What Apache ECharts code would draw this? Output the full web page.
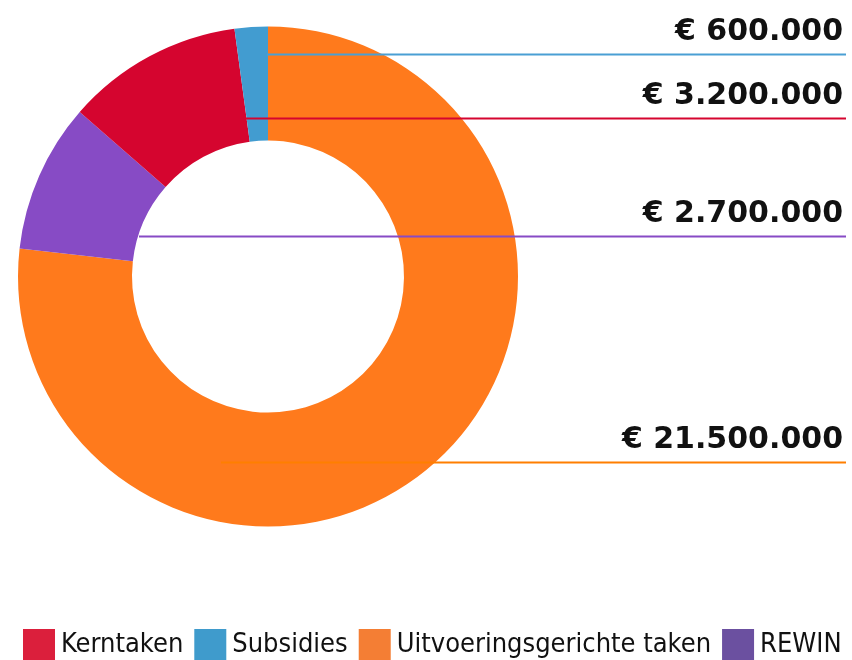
<!DOCTYPE html>
<html>
<head>
<meta charset="utf-8">
<script src="https://cdn.jsdelivr.net/npm/echarts@6/dist/echarts.min.js"></script>
<style>html,body{margin:0;padding:0;background:#fff}#c{width:852px;height:660px}</style>
</head>
<body>
<div id="c"></div>
<script>
// Data (slice order clockwise from 12 o'clock)
const categories = ['Uitvoeringsgerichte taken', 'REWIN', 'Kerntaken', 'Subsidies'];
const values = [21500000, 2700000, 3200000, 600000];
const valueLabels = ['€ 21.500.000', '€ 2.700.000', '€ 3.200.000', '€ 600.000'];
const legendOrder = ['Kerntaken', 'Subsidies', 'Uitvoeringsgerichte taken', 'REWIN'];

// Styles
const sliceColors = ['#ff7a1c', '#874bc5', '#d5052f', '#429cd0'];
const lineColors = ['#ff7f00', '#874bc5', '#d5052f', '#4a9fd4'];
const legendColors = { 'Kerntaken': '#db1f3c', 'Subsidies': '#3f9bcc', 'Uitvoeringsgerichte taken': '#f47e34', 'REWIN': '#6b50a0' };
// Label-line layout (pixel positions of leader lines)
const lineY = [462.5, 236.5, 118.5, 54.5];
const lineStartX = [221, 139, 245, 267];
const lineEndX = 846;
const labelRight = 843;

const pieGeom = { center: [268, 276.5], radius: [136, 250], startAngle: 90, clockwise: true };

const chart = echarts.init(document.getElementById('c'), null, { renderer: 'canvas' });
chart.setOption({
  animation: false,
  legend: {
    data: legendOrder.map(n => ({ name: n, itemStyle: { color: legendColors[n] } })),
    left: 18,
    top: 624,
    width: 840,
    itemWidth: 32,
    itemHeight: 32,
    itemGap: 11,
    icon: 'rect',
    selectedMode: false,
    textStyle: { fontFamily: '"Liberation Sans Narrow", "DejaVu Sans Condensed", sans-serif', fontSize: 27, color: '#111', padding: [0, 0, 0, 1] }
  },
  series: [{
    // coloured slices
    type: 'pie',
    z: 2,
    ...pieGeom,
    silent: true,
    itemStyle: { borderWidth: 0 },
    label: { show: false },
    labelLine: { show: false },
    data: categories.map((c, i) => ({ name: c, value: values[i], itemStyle: { color: sliceColors[i] } }))
  }, {
    // transparent overlay carrying value labels and leader lines above the slices
    type: 'pie',
    z: 5,
    ...pieGeom,
    silent: true,
    legendHoverLink: false,
    avoidLabelOverlap: false,
    itemStyle: { color: 'rgba(0,0,0,0)', borderWidth: 0 },
    label: {
      show: true,
      position: 'outside',
      formatter: p => valueLabels[p.dataIndex],
      fontFamily: '"DejaVu Sans", sans-serif',
      fontWeight: 'bold',
      fontSize: 30,
      color: '#111'
    },
    labelLine: { show: true, showAbove: true, lineStyle: { width: 2 } },
    labelLayout: function (p) {
      const i = p.dataIndex;
      const y = lineY[i];
      return {
        x: labelRight,
        y: y - 22,
        align: 'right',
        verticalAlign: 'middle',
        labelLinePoints: [[lineStartX[i], y], [lineStartX[i], y], [lineEndX, y]]
      };
    },
    data: categories.map((c, i) => ({
      name: c + ' ',
      value: values[i],
      labelLine: { lineStyle: { color: lineColors[i] } }
    }))
  }]
});
</script>
</body>
</html>
